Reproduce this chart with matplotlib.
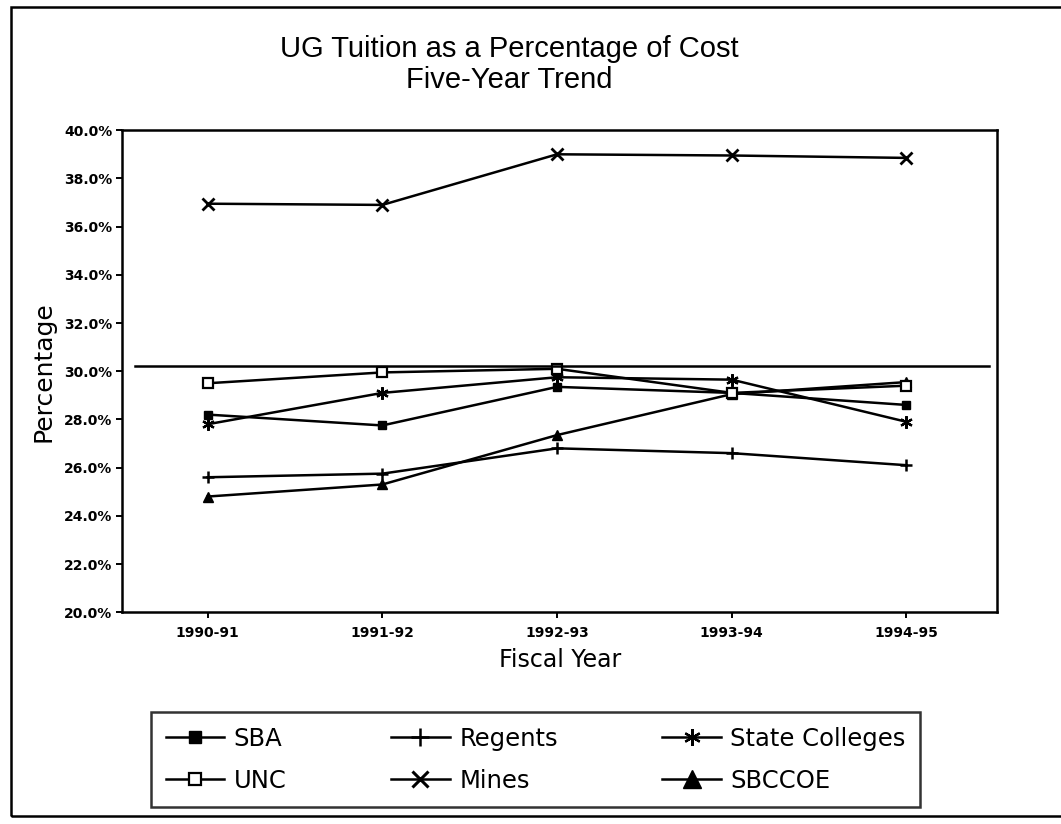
import matplotlib
matplotlib.use("Agg")
import matplotlib.pyplot as plt
from matplotlib.lines import Line2D

# fiscal years on the x axis
years = ["1990-91", "1991-92", "1992-93", "1993-94", "1994-95"]

# tuition as a percentage of cost
sba = [28.2, 27.75, 29.35, 29.1, 28.6]
unc = [29.5, 29.95, 30.1, 29.1, 29.4]
regents = [25.6, 25.75, 26.8, 26.6, 26.1]
mines = [36.95, 36.9, 39.0, 38.95, 38.85]
state_colleges = [27.8, 29.1, 29.75, 29.65, 27.9]
sbccoe = [24.8, 25.3, 27.35, 29.05, 29.55]
ref_level = 30.2

yticks = [20, 22, 24, 26, 28, 30, 32, 34, 36, 38, 40]

asterisk = (6, 2, 0)

fig = plt.figure(figsize=(10.61, 8.24), dpi=100)
ax = fig.add_axes([0.115, 0.257, 0.825, 0.585])

x = list(range(len(years)))
lw = 1.8
ax.plot(x, mines, color="black", lw=lw, marker="x", ms=8, mew=2)
ax.plot(x, regents, color="black", lw=lw, marker="+", ms=9, mew=1.8)
ax.plot(x, sbccoe, color="black", lw=lw, marker="^", ms=7)
ax.plot(x, state_colleges, color="black", lw=lw, marker=asterisk, ms=9, mew=1.6)
ax.plot(x, sba, color="black", lw=lw, marker="s", ms=6)
ax.plot(x, unc, color="black", lw=lw, marker="s", ms=7, mfc="white", mew=1.6)
ax.axhline(ref_level, xmin=0.015, xmax=0.99, color="black", lw=1.8)

ax.set_xlim(-0.49, 4.52)
ax.set_ylim(20, 40)
ax.set_yticks(yticks)
ax.set_yticklabels([f"{v:.1f}%" for v in yticks], fontsize=10, fontweight="bold")
ax.set_xticks(x)
ax.set_xticklabels(years, fontsize=10, fontweight="bold")
ax.tick_params(axis="both", direction="out", length=4, width=1.4, pad=3)
ax.tick_params(axis="x", pad=6)
for s in ax.spines.values():
    s.set_linewidth(1.8)

ax.set_ylabel("Percentage", fontsize=18, labelpad=6)
ax.set_xlabel("Fiscal Year", fontsize=17, labelpad=6)

fig.text(0.48, 0.922, "UG Tuition as a Percentage of Cost\nFive-Year Trend",
         ha="center", va="center", fontsize=21, linespacing=1.15,
         family="Liberation Sans")

handles = [
    Line2D([], [], color="black", lw=lw, marker="s", ms=8),
    Line2D([], [], color="black", lw=lw, marker="s", ms=8, mfc="white", mew=1.6),
    Line2D([], [], color="black", lw=lw, marker="+", ms=13, mew=1.8),
    Line2D([], [], color="black", lw=lw, marker="x", ms=11, mew=2.2),
    Line2D([], [], color="black", lw=lw, marker=asterisk, ms=12, mew=1.6),
    Line2D([], [], color="black", lw=lw, marker="^", ms=13),
]
labels = ["SBA", "UNC", "Regents", "Mines", "State Colleges", "SBCCOE"]
leg = fig.legend(handles, labels, ncol=3, loc="center",
                 bbox_to_anchor=(0.505, 0.078), fontsize=17.5,
                 frameon=True, fancybox=False, edgecolor="black",
                 handlelength=2.4, handletextpad=0.4, columnspacing=4.3,
                 borderpad=0.6, borderaxespad=0, labelspacing=0.75)
leg.get_frame().set_linewidth(1.8)

# outer border of the page
fig.add_artist(plt.Rectangle((0.01, 0.01), 1.2, 0.982, transform=fig.transFigure,
                             fill=False, lw=1.8, ec="black"))

fig.savefig("out.png", dpi=100)
